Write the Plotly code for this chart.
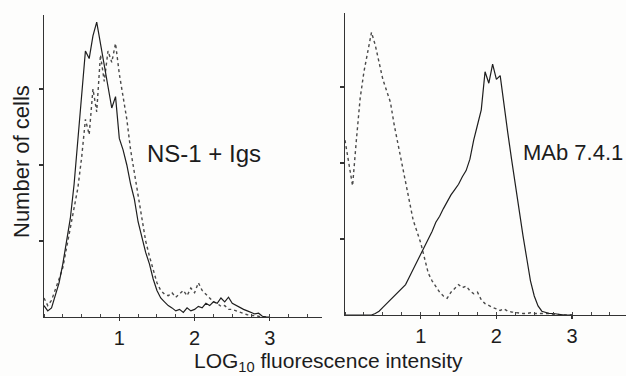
import plotly.graph_objects as go

# Bin centres (log10 fluorescence)
log_fluor = [0.00, 0.05, 0.10, 0.15, 0.20, 0.25, 0.30, 0.35, 0.40, 0.45,
             0.50, 0.55, 0.60, 0.65, 0.70, 0.75, 0.80, 0.85, 0.90, 0.95,
             1.00, 1.05, 1.10, 1.15, 1.20, 1.25, 1.30, 1.35, 1.40, 1.45,
             1.50, 1.55, 1.60, 1.65, 1.70, 1.75, 1.80, 1.85, 1.90, 1.95,
             2.00, 2.05, 2.10, 2.15, 2.20, 2.25, 2.30, 2.35, 2.40, 2.45,
             2.50, 2.55, 2.60, 2.65, 2.70, 2.75, 2.80, 2.85, 2.90, 2.95, 3.00]

# Left panel: NS-1 + Igs (solid) and control (dotted)
ns1_solid = [0.15, 0.08, 0.12, 0.30, 0.45, 0.70, 1.00, 1.30, 1.75, 2.35,
             2.90, 3.50, 3.40, 3.70, 3.88, 3.60, 3.30, 3.05, 2.75, 2.90,
             2.35, 2.20, 2.00, 1.75, 1.55, 1.25, 1.05, 0.85, 0.70, 0.50,
             0.35, 0.25, 0.20, 0.15, 0.12, 0.08, 0.10, 0.06, 0.12, 0.08,
             0.10, 0.14, 0.12, 0.18, 0.15, 0.20, 0.18, 0.25, 0.20, 0.26,
             0.18, 0.15, 0.12, 0.10, 0.08, 0.06, 0.04, 0.05, 0.01, 0.00, 0.00]
ns1_dotted = [0.25, 0.15, 0.22, 0.35, 0.50, 0.65, 0.90, 1.20, 1.45, 1.70,
              2.10, 2.60, 2.40, 3.00, 2.70, 3.45, 3.10, 3.50, 3.35, 3.60,
              3.20, 2.90, 2.60, 2.20, 1.90, 1.60, 1.30, 1.00, 0.80, 0.62,
              0.45, 0.35, 0.30, 0.28, 0.32, 0.26, 0.30, 0.35, 0.28, 0.38,
              0.32, 0.45, 0.35, 0.30, 0.25, 0.20, 0.18, 0.14, 0.15, 0.10,
              0.10, 0.08, 0.06, 0.04, 0.03, 0.02, 0.02, 0.01, 0.00, 0.00, 0.00]

# Right panel: MAb 7.4.1 (solid) and control (dotted)
mab_solid = [0.00, 0.00, 0.00, 0.00, 0.00, 0.00, 0.00, 0.00, 0.02, 0.05,
             0.10, 0.15, 0.20, 0.25, 0.30, 0.35, 0.40, 0.50, 0.60, 0.70,
             0.78, 0.90, 1.00, 1.10, 1.22, 1.30, 1.40, 1.50, 1.58, 1.65,
             1.72, 1.82, 1.90, 2.05, 2.30, 2.50, 2.70, 3.20, 3.05, 3.30,
             3.10, 3.15, 2.75, 2.40, 2.05, 1.70, 1.40, 1.05, 0.75, 0.45,
             0.25, 0.12, 0.05, 0.03, 0.02, 0.02, 0.01, 0.00, 0.00, 0.00, 0.00]
mab_dotted = [2.30, 2.00, 1.70, 2.30, 2.85, 3.20, 3.45, 3.72, 3.55, 3.30,
              3.10, 2.95, 2.80, 2.50, 2.25, 2.00, 1.72, 1.45, 1.25, 1.10,
              0.95, 0.75, 0.55, 0.45, 0.38, 0.30, 0.25, 0.22, 0.30, 0.35,
              0.40, 0.36, 0.38, 0.32, 0.28, 0.30, 0.20, 0.15, 0.12, 0.10,
              0.08, 0.06, 0.08, 0.05, 0.04, 0.03, 0.03, 0.02, 0.02, 0.03,
              0.02, 0.02, 0.02, 0.02, 0.02, 0.01, 0.01, 0.00, 0.00, 0.00, 0.00]

x_ticks = [1, 2, 3]
x_tick_labels = ["1", "2", "3"]
y_ticks = [1, 2, 3]

FONT = "Liberation Sans, Arial, Helvetica, sans-serif"
INK = "#1c1c1c"

fig = go.Figure()
solid_style = dict(color="#1e1e1e", width=1.2)
dot_style = dict(color="#4a4a4a", width=1.4, dash="dot")

fig.add_trace(go.Scatter(x=log_fluor, y=ns1_dotted, mode="lines", line=dot_style,
                         xaxis="x", yaxis="y", showlegend=False, hoverinfo="skip"))
fig.add_trace(go.Scatter(x=log_fluor, y=ns1_solid, mode="lines", line=solid_style,
                         xaxis="x", yaxis="y", showlegend=False, hoverinfo="skip"))
fig.add_trace(go.Scatter(x=log_fluor, y=mab_dotted, mode="lines", line=dot_style,
                         xaxis="x2", yaxis="y2", showlegend=False, hoverinfo="skip"))
fig.add_trace(go.Scatter(x=log_fluor, y=mab_solid, mode="lines", line=solid_style,
                         xaxis="x2", yaxis="y2", showlegend=False, hoverinfo="skip"))

W, H = 626, 376

def xax(px0, px1, unit):
    return dict(
        domain=[px0 / W, px1 / W], range=[0, (px1 - px0) / unit],
        showgrid=False, zeroline=False, showline=True, linecolor="#333333", linewidth=1.3,
        tickmode="array", tickvals=x_ticks, ticktext=x_tick_labels,
        ticks="outside", ticklen=3, tickwidth=1.2, tickcolor="#333333",
        tickfont=dict(family=FONT, size=20, color=INK),
        minor=dict(dtick=0.25, tick0=0, ticks="inside", ticklen=3, tickwidth=1, tickcolor="#444444"),
        fixedrange=True,
    )

def yax(base_py, top_py, anchor):
    return dict(
        domain=[(H - base_py) / H, (H - top_py) / H], range=[0, (base_py - top_py) / 76.0],
        showgrid=False, zeroline=False, showline=True, linecolor="#333333", linewidth=1.3,
        tickmode="array", tickvals=y_ticks, showticklabels=False,
        ticks="outside", ticklen=4, tickwidth=1.2, tickcolor="#333333",
        anchor=anchor, fixedrange=True,
    )

fig.update_layout(
    width=W, height=H,
    margin=dict(l=0, r=0, t=0, b=0),
    paper_bgcolor="#fdfdfc", plot_bgcolor="rgba(0,0,0,0)",
    xaxis=dict(xax(44, 322, 75.3), anchor="y"),
    yaxis=yax(317, 15, "x"),
    xaxis2=dict(xax(345, 626, 75.7), anchor="y2"),
    yaxis2=yax(315, 13, "x2"),
    font=dict(family=FONT, color=INK),
    annotations=[
        dict(text="Number of cells", textangle=-90, x=21 / W, y=1 - 162 / H,
             xref="paper", yref="paper", xanchor="center", yanchor="middle",
             showarrow=False, font=dict(size=22, family=FONT, color=INK)),
        dict(text="NS-1 + Igs", x=145 / W, y=1 - 154 / H,
             xref="paper", yref="paper", xanchor="left", yanchor="middle",
             showarrow=False, font=dict(size=24, family=FONT, color=INK)),
        dict(text="MAb 7.4.1", x=521 / W, y=1 - 152 / H,
             xref="paper", yref="paper", xanchor="left", yanchor="middle",
             showarrow=False, font=dict(size=22, family=FONT, color=INK)),
        dict(text="LOG<sub>10</sub> fluorescence intensity", x=192 / W, y=1 - 362 / H,
             xref="paper", yref="paper", xanchor="left", yanchor="middle",
             showarrow=False, font=dict(size=21, family=FONT, color=INK)),
    ],
)

fig.write_html("out.html",
               config={"displayModeBar": False, "staticPlot": True},
               post_script="document.body.style.margin='0';document.body.style.padding='0';")
